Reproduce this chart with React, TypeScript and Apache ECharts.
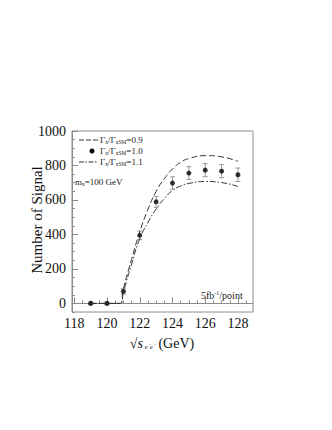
import React, { useEffect, useRef } from "react";
import * as echarts from "echarts";

// Data points (Γx/ΓxSM = 1.0)
const energies = [119, 120, 121, 122, 123, 124, 125, 126, 127, 128];
const signal = [0, 0, 70, 395, 589, 698, 756, 773, 767, 746];
const errors = [8, 8, 15, 25, 32, 36, 37, 38, 38, 39];

// Theory curves
const curveX = [119, 120, 120.8, 121, 121.5, 122, 122.5, 123, 123.5, 124, 124.5, 125, 126, 127, 128];
const curve09 = [0, 0, 0, 85, 255, 415, 545, 650, 723, 780, 818, 840, 857, 850, 824];
const curve11 = [0, 0, 0, 65, 228, 375, 470, 547, 608, 655, 681, 696, 707, 701, 678];

const xMajor = [118, 120, 122, 124, 126, 128];
const xMinor = [118.5, 119, 119.5, 120.5, 121, 121.5, 122.5, 123, 123.5, 124.5, 125, 125.5, 126.5, 127, 127.5, 128.5];
const yMajor = [0, 200, 400, 600, 800, 1000];
const yMinor = [-50, 50, 100, 150, 250, 300, 350, 450, 500, 550, 650, 700, 750, 850, 900, 950];

const FONT = "Liberation Serif";
const FRAME = "#8c8c8c";

export default function App() {
  const ref = useRef<HTMLDivElement>(null);
  useEffect(() => {
    if (!ref.current) return;
    const chart = echarts.init(ref.current, undefined, { renderer: "svg" });
    const xMin = 117.86, xMax = 128.92, yMin = -50, yMax = 1000;
    const subRich = {
      m: { fontFamily: FONT, fontSize: 9, fill: "#222" },
      s: { fontFamily: FONT, fontSize: 5.5, fill: "#222", padding: [4, 0, 0, 0] },
    };
    const legendText = (v: string) => `{m|Γ}{s|x}{m|/Γ}{s|xSM}{m|=${v}}`;
    const fmt = (v: number) => String(v);
    chart.setOption({
      animation: false,
      grid: { left: 72, right: 79, top: 131, bottom: 118, show: true, borderColor: FRAME, borderWidth: 1 },
      xAxis: [
        {
          type: "value", min: xMin, max: xMax,
          axisLine: { show: true, lineStyle: { color: FRAME } },
          axisTick: { show: true, inside: true, length: 6, lineStyle: { color: FRAME }, customValues: xMajor },
          axisLabel: { customValues: xMajor, formatter: fmt, fontFamily: FONT, fontSize: 14, color: "#111", margin: 4 },
          splitLine: { show: false },
        },
        {
          type: "value", min: xMin, max: xMax, position: "bottom",
          axisLine: { show: false },
          axisTick: { show: true, inside: true, length: 3, lineStyle: { color: FRAME }, customValues: xMinor },
          axisLabel: { show: false },
          splitLine: { show: false },
        },
      ],
      yAxis: [
        {
          type: "value", min: yMin, max: yMax,
          axisLine: { show: true, lineStyle: { color: FRAME } },
          axisTick: { show: true, inside: true, length: 6, lineStyle: { color: FRAME }, customValues: yMajor },
          axisLabel: { customValues: yMajor, formatter: fmt, fontFamily: FONT, fontSize: 14, color: "#111", margin: 6 },
          splitLine: { show: false },
        },
        {
          type: "value", min: yMin, max: yMax, position: "left",
          axisLine: { show: false },
          axisTick: { show: true, inside: true, length: 3, lineStyle: { color: FRAME }, customValues: yMinor },
          axisLabel: { show: false },
          splitLine: { show: false },
        },
      ],
      series: [
        {
          type: "line", name: "0.9", showSymbol: false, smooth: 0.5,
          data: curveX.map((x, i) => [x, curve09[i]]),
          lineStyle: { color: "#333", width: 1, type: [6, 3] },
        },
        {
          type: "line", name: "1.1", showSymbol: false, smooth: 0.5,
          data: curveX.map((x, i) => [x, curve11[i]]),
          lineStyle: { color: "#333", width: 1, type: [6, 2, 1.5, 2] },
        },
        {
          type: "custom", name: "err",
          data: energies.map((x, i) => [x, signal[i], errors[i]]),
          renderItem: (params: any, api: any) => {
            const x = api.value(0), y = api.value(1), e = api.value(2);
            const t = api.coord([x, y + e]);
            const b = api.coord([x, y - e]);
            const st = { stroke: "#999", lineWidth: 1 };
            return {
              type: "group",
              children: [
                { type: "line", shape: { x1: t[0], y1: t[1], x2: b[0], y2: b[1] }, style: st },
                { type: "line", shape: { x1: t[0] - 2.5, y1: t[1], x2: t[0] + 2.5, y2: t[1] }, style: st },
                { type: "line", shape: { x1: b[0] - 2.5, y1: b[1], x2: b[0] + 2.5, y2: b[1] }, style: st },
              ],
            };
          },
        },
        {
          type: "scatter", name: "1.0", symbolSize: 5,
          data: energies.map((x, i) => [x, signal[i]]),
          itemStyle: { color: "#000" },
        },
      ],
      graphic: [
        { type: "line", shape: { x1: 79, y1: 140, x2: 98, y2: 140 }, style: { stroke: "#333", lineWidth: 1, lineDash: [5, 2] } },
        { type: "text", x: 100, y: 140, style: { text: legendText("0.9"), rich: subRich, verticalAlign: "middle" } },
        { type: "circle", shape: { cx: 92, cy: 151, r: 2.5 }, style: { fill: "#000" } },
        { type: "text", x: 100, y: 151, style: { text: legendText("1.0"), rich: subRich, verticalAlign: "middle" } },
        { type: "line", shape: { x1: 79, y1: 162, x2: 98, y2: 162 }, style: { stroke: "#333", lineWidth: 1, lineDash: [5, 1.5, 1.5, 1.5] } },
        { type: "text", x: 100, y: 162, style: { text: legendText("1.1"), rich: subRich, verticalAlign: "middle" } },
        { type: "text", x: 75, y: 182, style: { text: "{m|m}{s|x}{m|=100 GeV}", rich: subRich, verticalAlign: "middle" } },
        {
          type: "text", x: 201, y: 295,
          style: {
            text: "{m|5fb}{u|-1}{m|/point}",
            rich: {
              m: { fontFamily: FONT, fontSize: 10, fill: "#222" },
              u: { fontFamily: FONT, fontSize: 6, fill: "#222", padding: [0, 0, 5, 0] },
            },
            verticalAlign: "middle",
          },
        },
        {
          type: "text", x: 37, y: 220, rotation: Math.PI / 2,
          style: {
            text: "Number of Signal",
            fontFamily: FONT, fontSize: 15, fill: "#111",
            align: "center", verticalAlign: "middle",
          },
        },
        {
          type: "text", x: 162, y: 343,
          style: {
            text: "{m|√}{i|s}{s| e⁻e⁻}{m| (GeV)}",
            rich: {
              m: { fontFamily: FONT, fontSize: 14, fill: "#111" },
              i: { fontFamily: FONT, fontSize: 14, fontStyle: "italic", fill: "#111" },
              s: { fontFamily: FONT, fontSize: 7, fontStyle: "italic", fill: "#111", padding: [7, 0, 0, 0] },
            },
            align: "center", verticalAlign: "middle",
          },
        },
      ],
    });
    return () => chart.dispose();
  }, []);
  return <div ref={ref} style={{ width: 332, height: 430, margin: -8 }} />;
}
